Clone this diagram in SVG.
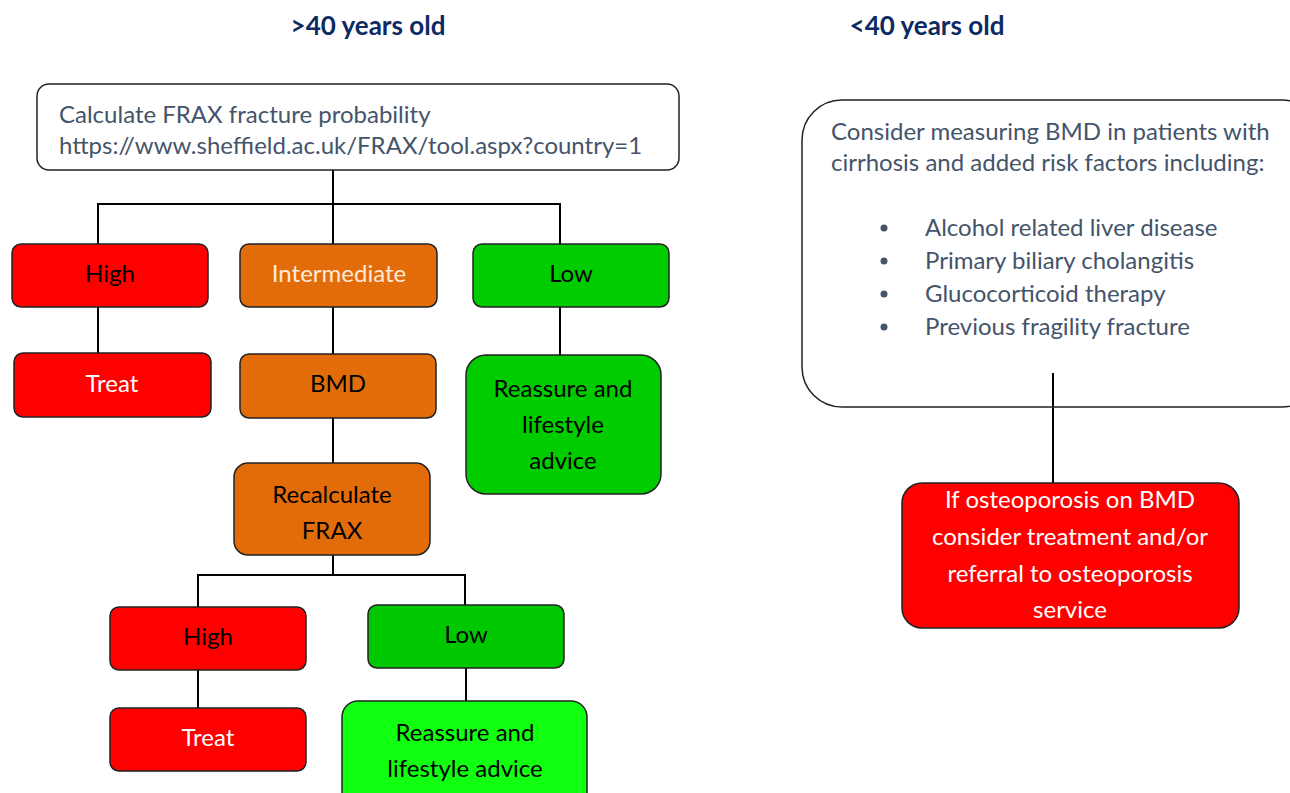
<svg xmlns="http://www.w3.org/2000/svg" width="1290" height="793" viewBox="0 0 1290 793">
<style>
text{font-family:Lato,"Open Sans","Liberation Sans",sans-serif;font-size:24px;}
.title{font-weight:bold;fill:#0e2a62;font-size:26px;text-anchor:middle;}
.box{stroke:#222;stroke-width:1.5;}
.red{fill:#ff0000;}
.org{fill:#e36c0a;}
.grn{fill:#00cc00;}
.grn2{fill:#00c800;}
.lgrn{fill:#11ff11;}
.wht{fill:#ffffff;}
.c{text-anchor:middle;}
.k{fill:#000;}
.w{fill:#fff;}
.lw{fill:#fde9d9;}
.s{fill:#44546a;}
.conn{stroke:#000;stroke-width:2;fill:none;}
</style>
<rect width="1290" height="793" fill="#fff"/>
<text class="title" x="368" y="35">&gt;40 years old</text>
<text class="title" x="927" y="35">&lt;40 years old</text>
<g id="connectors">
<path class="conn" d="M333 170 V248 M98 244 V204 H560 V244 M98 307 V353 M333 307 V355 M560 307 V355 M333 418 V465 M333 555 V575 M198 607 V575 H465 V605 M198 670 V708 M466 668 V701 M1053 373 V483"/>
</g>
<g id="frax">
<rect class="box wht" x="37" y="84" width="642" height="86" rx="12"/>
<text class="s" x="59" y="123">Calculate FRAX fracture probability</text>
<text class="s" x="59" y="154">https://www.sheffield.ac.uk/FRAX/tool.aspx?country=1</text>
</g>
<g id="high1"><rect class="box red" x="12" y="244" width="196" height="63" rx="9"/><text class="c k" x="110" y="282">High</text></g>
<g id="intermediate"><rect class="box org" x="240" y="244" width="197" height="63" rx="9"/><text class="c lw" x="339" y="282">Intermediate</text></g>
<g id="low1"><rect class="box grn" x="473" y="244" width="196" height="63" rx="9"/><text class="c k" x="571" y="282">Low</text></g>
<g id="treat1"><rect class="box red" x="14" y="353" width="197" height="64" rx="9"/><text class="c w" x="112" y="392">Treat</text></g>
<g id="bmd"><rect class="box org" x="240" y="354" width="196" height="64" rx="9"/><text class="c k" x="338" y="392">BMD</text></g>
<g id="reassure1"><rect class="box grn" x="466" y="355" width="195" height="139" rx="20"/><text class="c k" x="563" y="397">Reassure and</text><text class="c k" x="563" y="433">lifestyle</text><text class="c k" x="563" y="469">advice</text></g>
<g id="recalc"><rect class="box org" x="234" y="463" width="196" height="92" rx="14"/><text class="c k" x="332" y="503">Recalculate</text><text class="c k" x="332" y="539">FRAX</text></g>
<g id="high2"><rect class="box red" x="110" y="607" width="196" height="63" rx="9"/><text class="c k" x="208" y="645">High</text></g>
<g id="low2"><rect class="box grn2" x="368" y="605" width="196" height="63" rx="9"/><text class="c k" x="466" y="643">Low</text></g>
<g id="treat2"><rect class="box red" x="110" y="708" width="196" height="63" rx="9"/><text class="c w" x="208" y="746">Treat</text></g>
<g id="reassure2"><rect class="box lgrn" x="342" y="701" width="245" height="110" rx="16"/><text class="c k" x="465" y="741">Reassure and</text><text class="c k" x="465" y="777">lifestyle advice</text></g>
<g id="consider">
<rect class="box" fill="none" x="802" y="100" width="520" height="307" rx="40"/>
<text class="s" x="831" y="140">Consider measuring BMD in patients with</text>
<text class="s" x="831" y="171">cirrhosis and added risk factors including:</text>
<circle class="s" cx="884" cy="228" r="3.5"/><text class="s" x="925" y="236">Alcohol related liver disease</text>
<circle class="s" cx="884" cy="261" r="3.5"/><text class="s" x="925" y="269">Primary biliary cholangitis</text>
<circle class="s" cx="884" cy="294" r="3.5"/><text class="s" x="925" y="302">Glucocorticoid therapy</text>
<circle class="s" cx="884" cy="327" r="3.5"/><text class="s" x="925" y="335">Previous fragility fracture</text>
</g>
<g id="referral"><rect class="box red" x="902" y="483" width="337" height="145" rx="20"/>
<text class="c w" x="1070" y="508">If osteoporosis on BMD</text>
<text class="c w" x="1070" y="545">consider treatment and/or</text>
<text class="c w" x="1070" y="582">referral to osteoporosis</text>
<text class="c w" x="1070" y="618">service</text></g>
</svg>
